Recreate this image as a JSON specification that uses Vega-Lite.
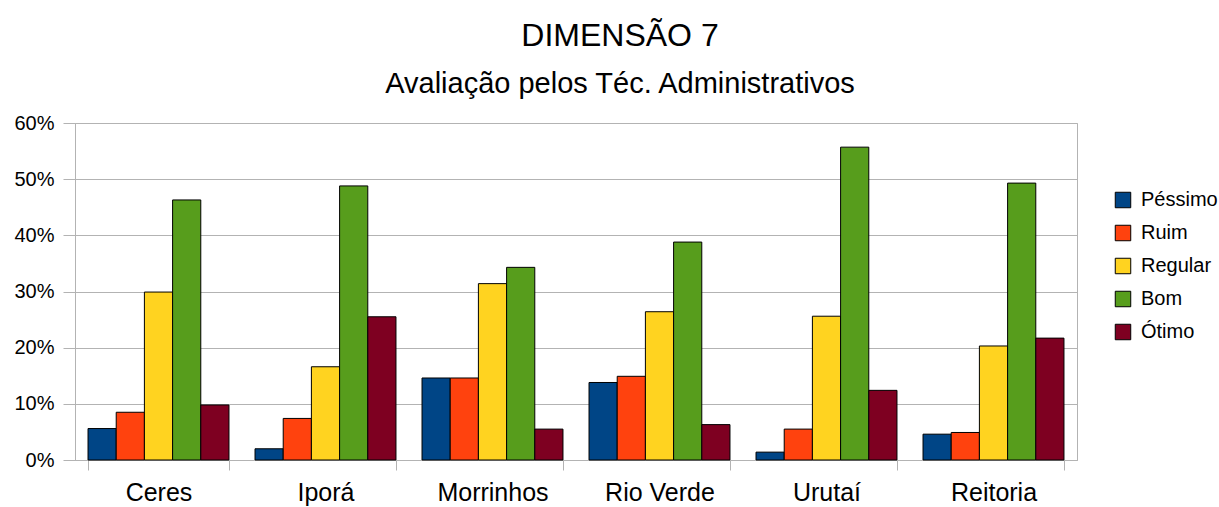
{
  "$schema": "https://vega.github.io/schema/vega-lite/v6.json",
  "width": 1002,
  "height": 337,
  "autosize": {"type": "none"},
  "padding": {"left": 75, "top": 123, "right": 142, "bottom": 47},
  "background": "white",
  "title": {
    "text": "DIMENSÃO 7",
    "subtitle": "Avaliação pelos Téc. Administrativos",
    "font": "Liberation Sans",
    "fontSize": 32,
    "fontWeight": "normal",
    "color": "#000000",
    "subtitleFont": "Liberation Sans",
    "subtitleFontSize": 29,
    "subtitleColor": "#000000",
    "subtitlePadding": 17,
    "anchor": "middle",
    "dx": 44,
    "offset": 13
  },
  "config": {
    "view": {"stroke": "#b3b3b3", "strokeWidth": 1},
    "axis": {
      "labelFont": "Liberation Sans",
      "labelColor": "#000000",
      "domainColor": "#b3b3b3",
      "tickColor": "#b3b3b3",
      "gridColor": "#b3b3b3",
      "gridOpacity": 1,
      "title": null
    },
    "legend": {
      "labelFont": "Liberation Sans",
      "labelColor": "#000000"
    }
  },
  "data": {
    "values": [
      {"campus": "Ceres", "nivel": "Péssimo", "valor": 0.056},
      {"campus": "Ceres", "nivel": "Ruim", "valor": 0.085},
      {"campus": "Ceres", "nivel": "Regular", "valor": 0.299},
      {"campus": "Ceres", "nivel": "Bom", "valor": 0.463},
      {"campus": "Ceres", "nivel": "Ótimo", "valor": 0.098},
      {"campus": "Iporá", "nivel": "Péssimo", "valor": 0.020},
      {"campus": "Iporá", "nivel": "Ruim", "valor": 0.074},
      {"campus": "Iporá", "nivel": "Regular", "valor": 0.166},
      {"campus": "Iporá", "nivel": "Bom", "valor": 0.488},
      {"campus": "Iporá", "nivel": "Ótimo", "valor": 0.255},
      {"campus": "Morrinhos", "nivel": "Péssimo", "valor": 0.146},
      {"campus": "Morrinhos", "nivel": "Ruim", "valor": 0.146},
      {"campus": "Morrinhos", "nivel": "Regular", "valor": 0.314},
      {"campus": "Morrinhos", "nivel": "Bom", "valor": 0.343},
      {"campus": "Morrinhos", "nivel": "Ótimo", "valor": 0.055},
      {"campus": "Rio Verde", "nivel": "Péssimo", "valor": 0.138},
      {"campus": "Rio Verde", "nivel": "Ruim", "valor": 0.149},
      {"campus": "Rio Verde", "nivel": "Regular", "valor": 0.264},
      {"campus": "Rio Verde", "nivel": "Bom", "valor": 0.388},
      {"campus": "Rio Verde", "nivel": "Ótimo", "valor": 0.063},
      {"campus": "Urutaí", "nivel": "Péssimo", "valor": 0.014},
      {"campus": "Urutaí", "nivel": "Ruim", "valor": 0.055},
      {"campus": "Urutaí", "nivel": "Regular", "valor": 0.256},
      {"campus": "Urutaí", "nivel": "Bom", "valor": 0.557},
      {"campus": "Urutaí", "nivel": "Ótimo", "valor": 0.124},
      {"campus": "Reitoria", "nivel": "Péssimo", "valor": 0.046},
      {"campus": "Reitoria", "nivel": "Ruim", "valor": 0.049},
      {"campus": "Reitoria", "nivel": "Regular", "valor": 0.203},
      {"campus": "Reitoria", "nivel": "Bom", "valor": 0.493},
      {"campus": "Reitoria", "nivel": "Ótimo", "valor": 0.217}
    ]
  },
  "mark": {"type": "bar", "stroke": "#000000", "strokeWidth": 1},
  "encoding": {
    "x": {
      "field": "campus",
      "type": "nominal",
      "sort": ["Ceres", "Iporá", "Morrinhos", "Rio Verde", "Urutaí", "Reitoria"],
      "scale": {"paddingInner": 0.156, "paddingOuter": 0.078},
      "axis": {
        "labelAngle": 0,
        "labelFontSize": 25,
        "labelPadding": 10,
        "tickSize": 10,
        "tickBand": "extent",
        "grid": false,
        "title": null
      }
    },
    "xOffset": {
      "field": "nivel",
      "type": "nominal",
      "sort": ["Péssimo", "Ruim", "Regular", "Bom", "Ótimo"],
      "scale": {"paddingInner": 0, "paddingOuter": 0}
    },
    "y": {
      "field": "valor",
      "type": "quantitative",
      "scale": {"domain": [0, 0.6], "nice": false},
      "axis": {
        "values": [0, 0.1, 0.2, 0.3, 0.4, 0.5, 0.6],
        "format": ".0%",
        "labelFontSize": 20,
        "labelPadding": 9,
        "tickSize": 12,
        "grid": true,
        "title": null
      }
    },
    "color": {
      "field": "nivel",
      "type": "nominal",
      "sort": ["Péssimo", "Ruim", "Regular", "Bom", "Ótimo"],
      "scale": {
        "domain": ["Péssimo", "Ruim", "Regular", "Bom", "Ótimo"],
        "range": ["#004586", "#ff420e", "#ffd320", "#579d1c", "#7e0021"]
      },
      "legend": {
        "title": null,
        "orient": "none",
        "legendX": 1038,
        "legendY": 67,
        "symbolType": "square",
        "symbolSize": 240,
        "symbolStrokeColor": "#000000",
        "symbolStrokeWidth": 1,
        "symbolOpacity": 1,
        "labelFontSize": 20,
        "labelOffset": 8,
        "rowPadding": 13,
        "padding": 0
      }
    }
  }
}
